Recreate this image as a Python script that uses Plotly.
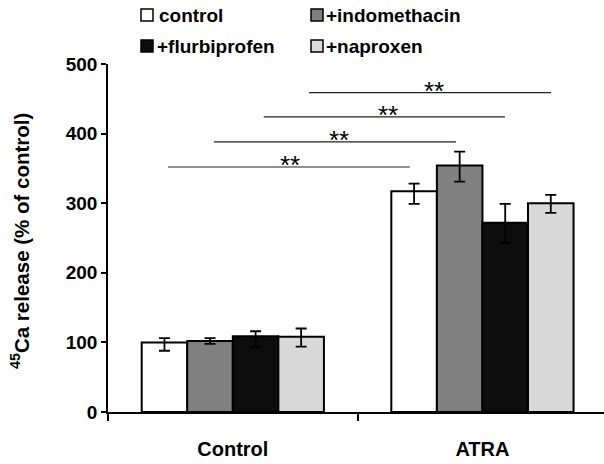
import plotly.graph_objects as go

groups = ["Control", "ATRA"]
series_names = ["control", "+indomethacin", "+flurbiprofen", "+naproxen"]
control = [100, 317]
indomethacin = [102, 354]
flurbiprofen = [109, 272]
naproxen = [108, 300]
err_plus_control = [6, 11]
err_minus_control = [12, 18]
err_plus_indo = [4, 20]
err_minus_indo = [4, 23]
err_plus_flurb = [7, 27]
err_minus_flurb = [16, 29]
err_plus_napr = [12, 12]
err_minus_napr = [14, 14]
y_ticks = [0, 100, 200, 300, 400, 500]

sig_y = [352, 388, 424, 459]
sig_x0 = [-0.26, -0.076, 0.124, 0.305]
sig_x1 = [0.709, 0.894, 1.09, 1.275]
sig_star_x = [0.228, 0.425, 0.621, 0.806]
sig_label = "**"

colors = ["#ffffff", "#808080", "#0d0d0d", "#d9d9d9"]
values = [control, indomethacin, flurbiprofen, naproxen]
eplus = [err_plus_control, err_plus_indo, err_plus_flurb, err_plus_napr]
eminus = [err_minus_control, err_minus_indo, err_minus_flurb, err_minus_napr]

FONT = "Liberation Sans, Arial, sans-serif"
W, H = 604, 464
ML, MR, MT, MB = 108, 0, 64, 52
PW, PH = W - ML - MR, H - MT - MB

def px_x(px):
    return (px - ML) / PW

def px_y(py):
    return (H - MB - py) / PH

fig = go.Figure()
for name, vals, col, ep, em in zip(series_names, values, colors, eplus, eminus):
    fig.add_trace(go.Bar(
        name=name, x=groups, y=vals,
        marker=dict(color=col, line=dict(color="black", width=2)),
        error_y=dict(type="data", symmetric=False, array=ep, arrayminus=em,
                     color="black", thickness=1.8, width=5.5),
        showlegend=False,
    ))

shapes = []
annotations = []
for y, x0, x1, sx in zip(sig_y, sig_x0, sig_x1, sig_star_x):
    shapes.append(dict(type="line", xref="x", yref="y", x0=x0, x1=x1, y0=y, y1=y,
                       line=dict(color="#222222", width=1.2)))
    annotations.append(dict(x=sx, y=y, xref="x", yref="y", text=sig_label,
                            showarrow=False, yanchor="middle", yshift=2,
                            font=dict(family=FONT, size=26, color="black")))

# legend (manual, 2x2 grid)
leg_sq_x = [141, 311, 141, 311]
leg_sq_y = [9, 9, 40, 40]
leg_txt_x = [157, 324, 155, 324]
sq = 12
for name, col, sx, sy, tx in zip(series_names, colors, leg_sq_x, leg_sq_y, leg_txt_x):
    shapes.append(dict(type="rect", xref="paper", yref="paper",
                       x0=px_x(sx), x1=px_x(sx + sq), y0=px_y(sy + sq), y1=px_y(sy),
                       fillcolor=col, line=dict(color="black", width=1.5)))
    annotations.append(dict(x=px_x(tx), y=px_y(sy + sq / 2), xref="paper", yref="paper",
                            text=name, showarrow=False, xanchor="left", yanchor="middle",
                            font=dict(family=FONT, size=19, color="black", weight="bold")))

annotations.append(dict(x=px_x(20), y=px_y(241), xref="paper", yref="paper",
                        text="<sup>45</sup>Ca release (% of control)", textangle=-90,
                        showarrow=False, xanchor="center", yanchor="middle",
                        font=dict(family=FONT, size=20.5, color="black", weight="bold")))

fig.update_layout(
    width=W, height=H,
    margin=dict(l=ML, r=MR, t=MT, b=MB, pad=0),
    paper_bgcolor="white", plot_bgcolor="white",
    barmode="group", bargap=0.27, bargroupgap=0,
    shapes=shapes, annotations=annotations,
    showlegend=False,
    font=dict(family=FONT, color="black"),
)
fig.update_xaxes(
    range=[-0.5, 1.487], showline=True, linecolor="black", linewidth=1.5,
    ticks="outside", tickson="boundaries", ticklen=7, tickwidth=1.5, tickcolor="black",
    showgrid=False, zeroline=False, ticklabelstandoff=18,
    tickfont=dict(family=FONT, size=20, color="black", weight="bold"),
)
fig.update_yaxes(
    range=[0, 500], tickvals=y_ticks, showline=True, linecolor="black", linewidth=1.5,
    ticks="outside", ticklen=5, tickwidth=1.5, tickcolor="black",
    showgrid=False, zeroline=False,
    tickfont=dict(family=FONT, size=19, color="black", weight="bold"),
)
fig.write_html(
    "out.html",
    config={"displayModeBar": False},
    post_script="document.body.style.margin='0';document.body.style.overflow='hidden';",
)
